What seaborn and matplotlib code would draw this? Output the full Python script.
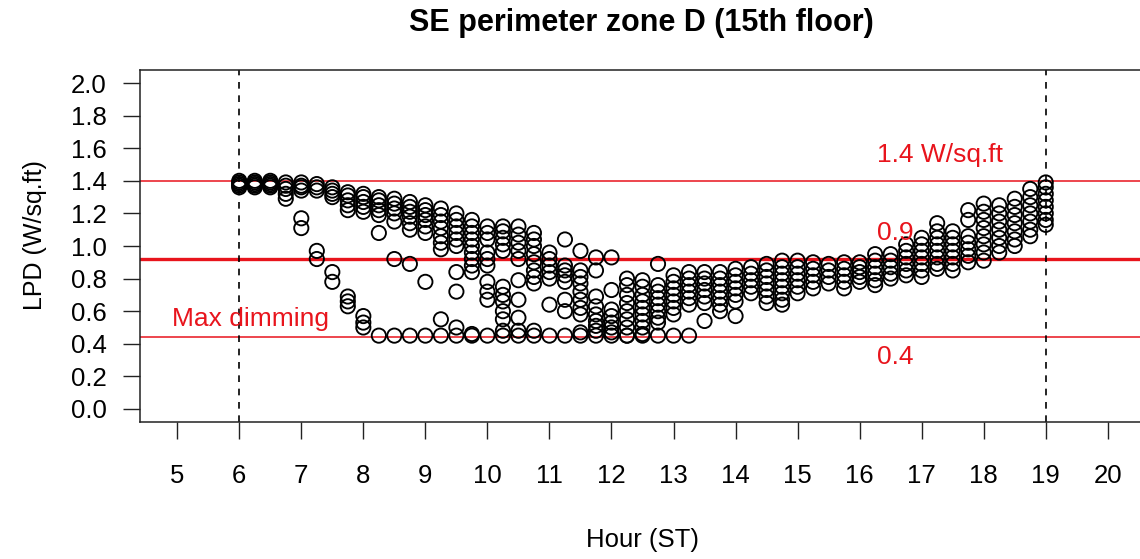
import numpy as np
import pandas as pd
import matplotlib
matplotlib.use("Agg")
import matplotlib.pyplot as plt
import seaborn as sns

# ── Data: LPD readings per 15-min slot (hour, [values]) ──
morning_band = [
    (6.0, [1.36, 1.37, 1.38, 1.39, 1.40]),
    (6.25, [1.36, 1.37, 1.38, 1.39, 1.40]),
    (6.5, [1.36, 1.37, 1.38, 1.39, 1.40]),
    (6.75, [1.29, 1.32, 1.35, 1.37, 1.39]),
    (7.0, [1.34, 1.36, 1.37, 1.39]),
    (7.25, [1.34, 1.36, 1.38]),
    (7.5, [1.30, 1.32, 1.34, 1.36]),
    (7.75, [1.22, 1.25, 1.28, 1.31, 1.33]),
    (8.0, [1.21, 1.24, 1.27, 1.30, 1.32]),
    (8.25, [1.19, 1.22, 1.25, 1.28, 1.30]),
    (8.5, [1.15, 1.20, 1.23, 1.26, 1.29]),
    (8.75, [1.14, 1.18, 1.21, 1.24, 1.27]),
    (9.0, [1.08, 1.12, 1.16, 1.19, 1.22, 1.25]),
    (9.25, [0.98, 1.02, 1.06, 1.11, 1.15, 1.19, 1.23]),
    (9.5, [1.00, 1.04, 1.08, 1.12, 1.16, 1.20]),
    (9.75, [0.88, 0.92, 0.96, 1.00, 1.04, 1.08, 1.12, 1.16]),
    (10.0, [0.88, 0.92, 0.96, 1.04, 1.08, 1.12]),
    (10.25, [0.97, 1.01, 1.05, 1.09, 1.12]),
    (10.5, [0.92, 0.97, 1.02, 1.07, 1.12]),
    (10.75, [0.77, 0.81, 0.85, 0.90, 0.95, 1.00, 1.04, 1.08]),
    (11.0, [0.80, 0.84, 0.88, 0.92, 0.96]),
    (11.25, [0.78, 0.82, 0.85, 0.88]),
    (11.5, [0.67, 0.72, 0.77, 0.81, 0.85]),
]

morning_scatter = [
    (7.0, [1.11, 1.17]),
    (7.25, [0.92, 0.97]),
    (7.5, [0.78, 0.84]),
    (7.75, [0.63, 0.66, 0.69]),
    (8.0, [0.50, 0.53, 0.57]),
    (8.25, [1.08]),
    (8.5, [0.92]),
    (8.75, [0.89, 1.10]),
    (9.0, [0.78]),
    (9.25, [0.55]),
    (9.5, [0.50, 0.72, 0.84]),
    (9.75, [0.84]),
    (10.0, [0.67, 0.72, 0.78]),
    (10.25, [0.55, 0.60, 0.66, 0.70, 0.75]),
    (10.5, [0.56, 0.67, 0.79]),
    (11.0, [0.64]),
    (11.25, [0.60, 0.67, 1.04]),
    (11.5, [0.58, 0.62, 0.97]),
]

max_dimming = [
    (8.25, [0.45]), (8.5, [0.45]), (8.75, [0.45]), (9.0, [0.45]),
    (9.25, [0.45]), (9.5, [0.45]), (9.75, [0.45, 0.46]), (10.0, [0.45]),
    (10.25, [0.45, 0.48]), (10.5, [0.45, 0.48]), (10.75, [0.45, 0.48]),
    (11.0, [0.45]), (11.25, [0.45]), (11.5, [0.45, 0.47]), (11.75, [0.45]),
    (12.0, [0.45]), (12.25, [0.45]), (12.5, [0.45]), (12.75, [0.45]),
    (13.0, [0.45]), (13.25, [0.45]),
]

midday = [
    (11.75, [0.48, 0.51, 0.54, 0.58, 0.63, 0.69, 0.85, 0.93]),
    (12.0, [0.47, 0.50, 0.53, 0.57, 0.61, 0.73, 0.93]),
    (12.25, [0.45, 0.50, 0.55, 0.60, 0.65, 0.70, 0.76, 0.80]),
    (12.5, [0.46, 0.50, 0.54, 0.58, 0.62, 0.66, 0.70, 0.75, 0.79]),
    (12.75, [0.53, 0.56, 0.60, 0.64, 0.68, 0.72, 0.76, 0.89]),
    (13.0, [0.58, 0.62, 0.66, 0.70, 0.74, 0.78, 0.82]),
    (13.25, [0.64, 0.68, 0.72, 0.76, 0.80, 0.84]),
    (13.5, [0.54, 0.65, 0.69, 0.73, 0.77, 0.80, 0.84]),
    (13.75, [0.60, 0.64, 0.68, 0.72, 0.76, 0.80, 0.84]),
    (14.0, [0.57, 0.66, 0.70, 0.74, 0.78, 0.82, 0.86]),
    (14.25, [0.71, 0.75, 0.79, 0.83, 0.87]),
    (14.5, [0.65, 0.69, 0.73, 0.77, 0.81, 0.85, 0.89]),
    (14.75, [0.64, 0.67, 0.71, 0.75, 0.79, 0.83, 0.87, 0.91]),
    (15.0, [0.71, 0.75, 0.79, 0.83, 0.87, 0.91]),
]

afternoon = [
    (15.25, [0.74, 0.78, 0.82, 0.86, 0.90]),
    (15.5, [0.77, 0.81, 0.85, 0.89]),
    (15.75, [0.74, 0.78, 0.82, 0.86, 0.90]),
    (16.0, [0.78, 0.81, 0.84, 0.87, 0.90]),
    (16.25, [0.76, 0.79, 0.83, 0.87, 0.91, 0.95]),
    (16.5, [0.80, 0.83, 0.87, 0.91, 0.95]),
    (16.75, [0.82, 0.85, 0.89, 0.93, 0.97, 1.01]),
    (17.0, [0.81, 0.85, 0.89, 0.93, 0.97, 1.01, 1.05]),
    (17.25, [0.86, 0.89, 0.93, 0.97, 1.01, 1.05, 1.09, 1.14]),
    (17.5, [0.85, 0.89, 0.93, 0.97, 1.01, 1.05, 1.09]),
    (17.75, [0.90, 0.94, 0.98, 1.02, 1.06, 1.16, 1.22]),
    (18.0, [0.91, 0.96, 1.01, 1.06, 1.11, 1.16, 1.21, 1.26]),
    (18.25, [0.96, 1.00, 1.05, 1.10, 1.15, 1.20, 1.25]),
    (18.5, [1.00, 1.04, 1.09, 1.14, 1.19, 1.24, 1.29]),
    (18.75, [1.06, 1.10, 1.15, 1.20, 1.25, 1.30, 1.35]),
    (19.0, [1.13, 1.16, 1.20, 1.24, 1.28, 1.32, 1.36, 1.39]),
]

ref_levels = [1.40, 0.92, 0.44]
ref_widths = [1.1, 2.4, 1.1]
occupied_hours = [6, 19]
x_ticks = list(range(5, 21))
y_ticks = [0.0, 0.2, 0.4, 0.6, 0.8, 1.0, 1.2, 1.4, 1.6, 1.8, 2.0]


def expand(groups):
    return [(h, v) for h, vals in groups for v in vals]


rows = expand(morning_band) + expand(morning_scatter) + expand(max_dimming) \
    + expand(midday) + expand(afternoon)
df = pd.DataFrame(rows, columns=["hour", "lpd"])

sns.set_style("ticks")
plt.rcParams["font.family"] = ["Liberation Sans", "DejaVu Sans"]
plt.rcParams["text.color"] = "black"
plt.rcParams["xtick.color"] = "black"
plt.rcParams["ytick.color"] = "black"

W, H = 1140, 559
fig = plt.figure(figsize=(W / 100, H / 100), dpi=100)
ax = fig.add_axes([140 / W, 1 - 422 / H, 1005 / W, 352 / H])

red = "#e8141c"
for lvl, lw in zip(ref_levels, ref_widths):
    ax.axhline(lvl, color=red, lw=lw, zorder=1)
for h in occupied_hours:
    ax.axvline(h, color="black", lw=1.2, dashes=(4, 4), zorder=1)

sns.scatterplot(data=df, x="hour", y="lpd", ax=ax, marker="o", s=105,
                facecolor="none", edgecolor="black", linewidth=1.35, zorder=3)

ax.text(16.28, 1.56, "1.4 W/sq.ft", color=red, fontsize=19, va="center")
ax.text(16.28, 1.08, "0.9", color=red, fontsize=19, va="center")
ax.text(16.28, 0.32, "0.4", color=red, fontsize=19, va="center")
ax.text(4.92, 0.55, "Max dimming", color=red, fontsize=19, va="center")

ax.set_xlim(4.4, 20.6)
ax.set_ylim(-0.08, 2.08)
ax.set_xticks(x_ticks)
ax.set_yticks(y_ticks)
ax.set_yticklabels([f"{t:.1f}" for t in y_ticks])
ax.tick_params(axis="x", length=12, width=1.0, pad=18, labelsize=18.5,
               color="#222222", labelcolor="black")
ax.tick_params(axis="y", length=12, width=1.0, pad=12, labelsize=18.5,
               color="#222222", labelcolor="black")
ax.set_xlabel("")
ax.set_ylabel("")
for sp in ax.spines.values():
    sp.set_visible(True)
    sp.set_linewidth(1.1)
    sp.set_color("#222222")

fig.text(641 / W, 1 - 23 / H, "SE perimeter zone D (15th floor)", color="black",
         fontsize=22, fontweight="bold", ha="center", va="center")
fig.text(643 / W, 1 - 540 / H, "Hour (ST)", color="black", fontsize=18.5,
         ha="center", va="center")
fig.text(35 / W, 1 - 235 / H, "LPD (W/sq.ft)", color="black", fontsize=18,
         rotation=90, ha="center", va="center")

fig.savefig("out.png", dpi=100)
